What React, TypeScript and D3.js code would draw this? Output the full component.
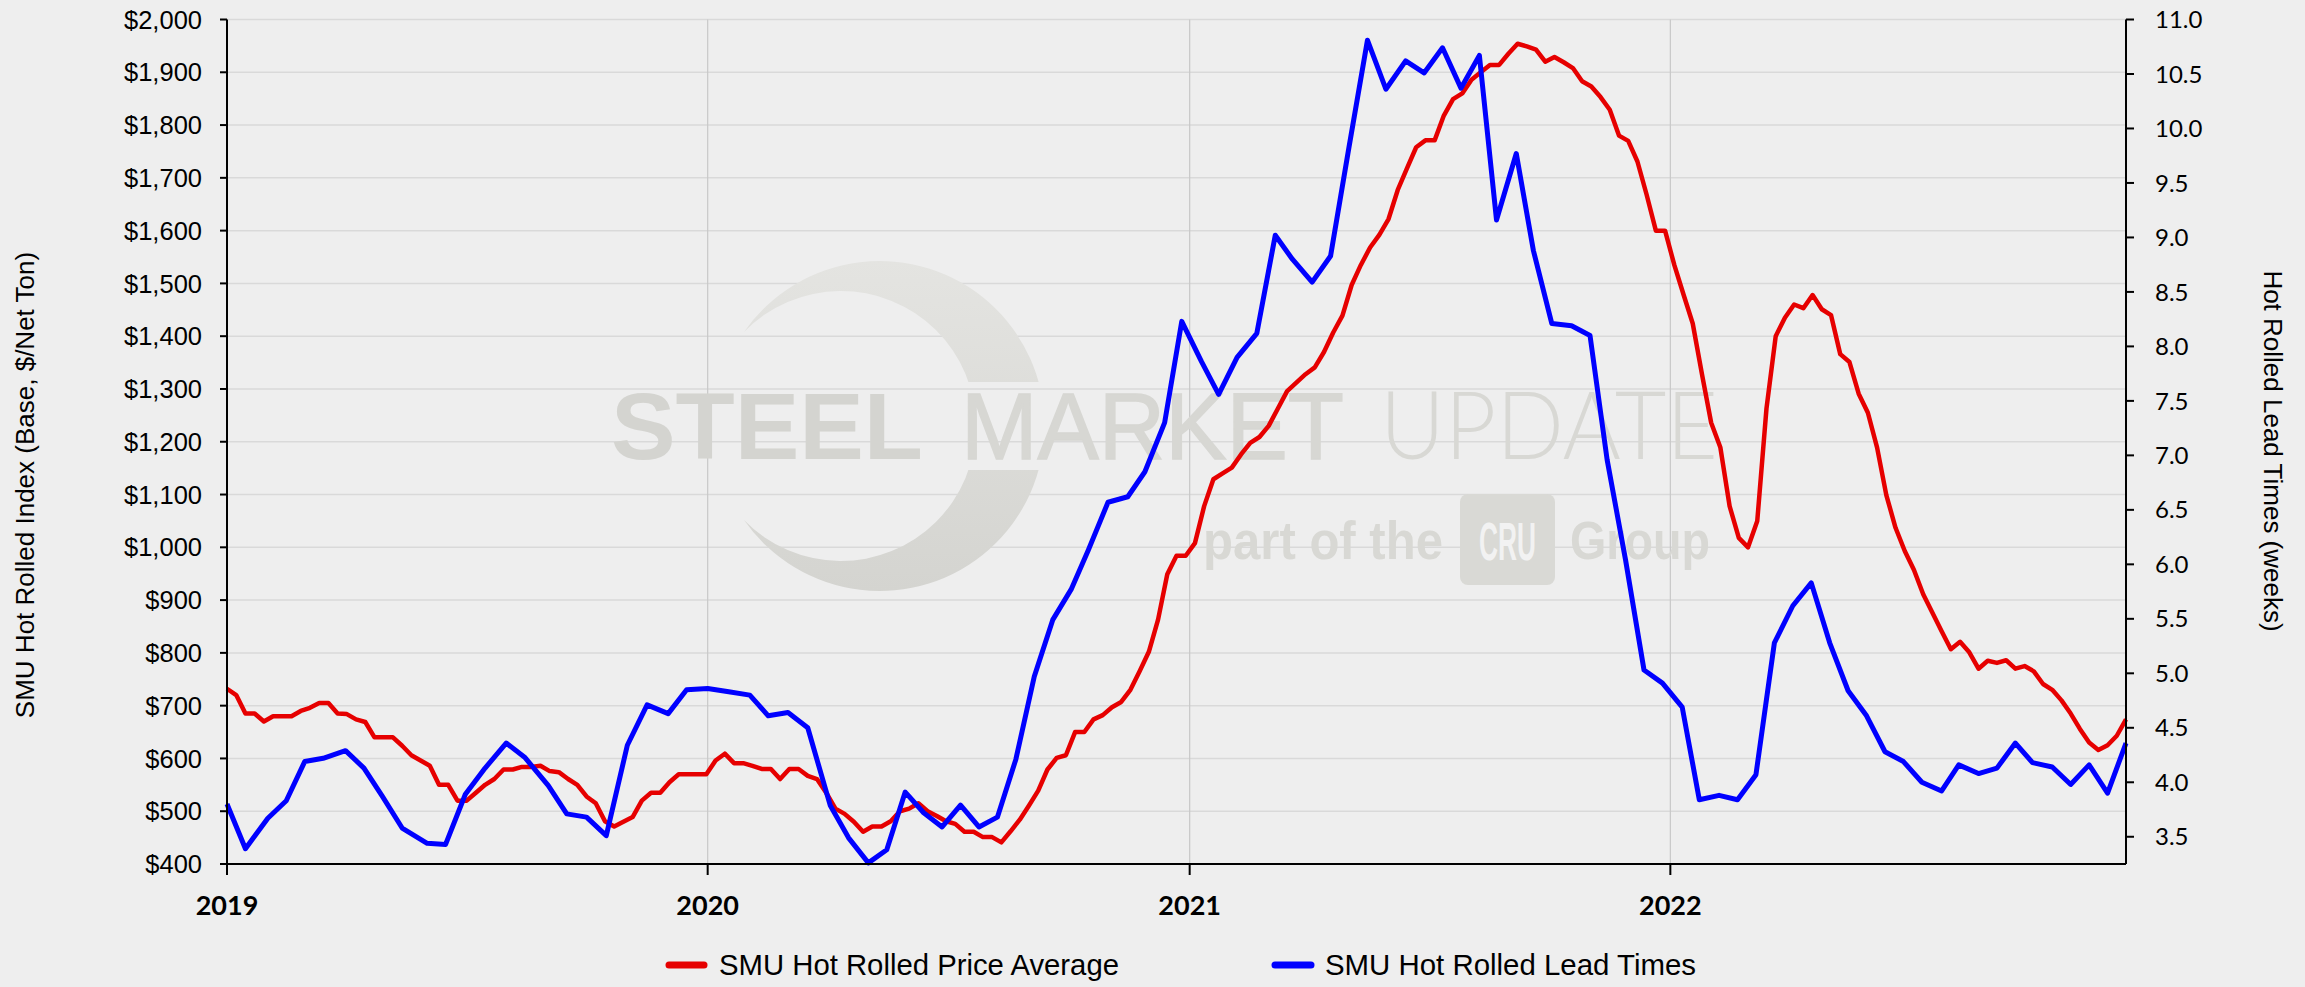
import React from "react";
import * as d3 from "d3";

const W = 2305;
const H = 987;

// Weekly SMU hot rolled price average, starting 2019-01-01
const priceStart = "2019-01-01";
const priceValues = [
  732, 720, 685, 685, 670, 680, 680, 680, 690, 696, 705, 705, 685, 684, 674, 669, 640, 640, 640, 624,
  606, 596, 586, 550, 550, 520, 520, 535, 550, 561, 579, 579, 584, 584, 586, 576, 574, 561, 550, 528,
  515, 481, 471, 480, 489, 520, 535, 535, 555, 570, 570, 570, 570, 596, 609, 591, 591, 586, 580, 580,
  561, 580, 580, 567, 561, 535, 505, 495, 480, 461, 471, 471, 481, 500, 505, 515, 500, 491, 481, 476,
  461, 461, 451, 451, 441, 462, 484, 511, 539, 579, 601, 606, 650, 650, 674, 682, 697, 707, 730, 765,
  802, 863, 949, 984, 984, 1008, 1078, 1129, 1140, 1151, 1176, 1198, 1209, 1230, 1263, 1296, 1312, 1328, 1341, 1370,
  1407, 1439, 1497, 1535, 1568, 1592, 1622, 1677, 1718, 1758, 1771, 1771, 1818, 1849, 1860, 1886, 1900, 1914, 1914, 1935,
  1954, 1949, 1943, 1920, 1929, 1919, 1908, 1883, 1873, 1853, 1829, 1780, 1770, 1731, 1668, 1600, 1600, 1535, 1479, 1424,
  1328, 1236, 1189, 1078, 1018, 1000, 1050, 1263, 1400, 1435, 1460, 1453, 1478, 1451, 1440, 1366, 1351, 1291, 1255, 1189,
  1099, 1037, 993, 957, 911, 876, 841, 807, 821, 801, 770, 785, 781, 786, 770, 775, 765, 741, 730, 710,
  685, 656, 630, 616, 625, 643, 674,
];

// Biweekly SMU hot rolled lead times (weeks)
const leadDates = [
  "2019-01-01", "2019-01-15", "2019-02-01", "2019-02-15", "2019-03-01", "2019-03-15", "2019-04-01", "2019-04-15",
  "2019-04-29", "2019-05-14", "2019-06-02", "2019-06-16", "2019-07-01", "2019-07-16", "2019-08-01", "2019-08-15",
  "2019-09-02", "2019-09-16", "2019-10-01", "2019-10-16", "2019-11-01", "2019-11-16", "2019-12-02", "2019-12-16",
  "2020-01-01", "2020-01-17", "2020-02-02", "2020-02-16", "2020-03-02", "2020-03-17", "2020-04-03", "2020-04-17",
  "2020-05-02", "2020-05-16", "2020-05-30", "2020-06-13", "2020-06-27", "2020-07-11", "2020-07-25", "2020-08-08",
  "2020-08-22", "2020-09-05", "2020-09-19", "2020-10-03", "2020-10-16", "2020-10-31", "2020-11-15", "2020-11-28",
  "2020-12-13", "2020-12-26", "2021-01-10", "2021-01-23", "2021-02-06", "2021-02-21", "2021-03-07", "2021-03-20",
  "2021-04-04", "2021-04-18", "2021-05-02", "2021-05-16", "2021-05-30", "2021-06-14", "2021-06-28", "2021-07-12",
  "2021-07-26", "2021-08-09", "2021-08-22", "2021-09-06", "2021-09-19", "2021-10-03", "2021-10-18", "2021-11-01",
  "2021-11-14", "2021-11-28", "2021-12-12", "2021-12-26", "2022-01-10", "2022-01-23", "2022-02-07", "2022-02-21",
  "2022-03-07", "2022-03-21", "2022-04-04", "2022-04-18", "2022-05-02", "2022-05-16", "2022-05-30", "2022-06-13",
  "2022-06-27", "2022-07-11", "2022-07-26", "2022-08-08", "2022-08-23", "2022-09-06", "2022-09-20", "2022-10-03",
  "2022-10-18", "2022-11-01", "2022-11-15", "2022-11-29", "2022-12-13",
];
const leadValues = [
  3.8, 3.39, 3.67, 3.83, 4.19, 4.22, 4.29, 4.13,
  3.87, 3.58, 3.44, 3.43, 3.89, 4.13, 4.36, 4.23,
  3.97, 3.71, 3.68, 3.51, 4.34, 4.71, 4.63, 4.85,
  4.86, 4.83, 4.8, 4.61, 4.64, 4.5, 3.79, 3.49,
  3.26, 3.38, 3.91, 3.72, 3.59, 3.79, 3.59, 3.68,
  4.21, 4.97, 5.49, 5.77, 6.13, 6.57, 6.62, 6.85,
  7.3, 8.23, 7.86, 7.56, 7.9, 8.12, 9.02, 8.8,
  8.59, 8.83, 9.83, 10.81, 10.36, 10.62, 10.51, 10.74,
  10.37, 10.67, 9.16, 9.77, 8.88, 8.21, 8.19, 8.1,
  6.96, 6.04, 5.03, 4.91, 4.69, 3.84, 3.88, 3.84,
  4.07, 5.28, 5.62, 5.83, 5.28, 4.84, 4.61, 4.28,
  4.19, 4.0, 3.92, 4.16, 4.08, 4.13, 4.36, 4.18,
  4.14, 3.98, 4.16, 3.9, 4.36,
];

const yearTicks = [2019, 2020, 2021, 2022];
const priceTicks = [400, 500, 600, 700, 800, 900, 1000, 1100, 1200, 1300, 1400, 1500, 1600, 1700, 1800, 1900, 2000];
const leadTicks = [3.5, 4.0, 4.5, 5.0, 5.5, 6.0, 6.5, 7.0, 7.5, 8.0, 8.5, 9.0, 9.5, 10.0, 10.5, 11.0];
const seriesNames = ["SMU Hot Rolled Price Average", "SMU Hot Rolled Lead Times"];
const leftTitle = "SMU Hot Rolled Index (Base, $/Net Ton)";
const rightTitle = "Hot Rolled Lead Times (weeks)";

const RED = "#e60000";
const BLUE = "#0000ff";
const BG = "#eeeeee";
const ARIAL = "'Liberation Sans', Arial, sans-serif";
const CAL = "Lato, 'Open Sans', sans-serif";

export default function App() {
  const L = 227, R = 2126, T = 19.5, B = 864;
  const x = d3.scaleUtc().domain([new Date("2019-01-01"), new Date("2022-12-13")]).range([L, R]);
  const yL = d3.scaleLinear().domain([400, 2000]).range([B, T]);
  const yR = d3.scaleLinear().domain([3.25, 11]).range([B, T]);

  const start = new Date(priceStart);
  const priceData = priceValues.map((v, i) => ({ d: d3.utcDay.offset(start, 7 * i), v }));
  const leadData = leadDates.map((s, i) => ({ d: new Date(s), v: leadValues[i] }));

  const priceLine = d3.line<{ d: Date; v: number }>().x((p) => x(p.d)).y((p) => yL(p.v));
  const leadLine = d3.line<{ d: Date; v: number }>().x((p) => x(p.d)).y((p) => yR(p.v));
  const fmt = d3.format("$,");

  // crescent swoosh of watermark
  const crescent = "M744,332 A165,165 0 1 1 744,520 A135,135 0 1 0 744,332 Z";

  return (
    <svg width={W} height={H} style={{ position: "absolute", left: 0, top: 0, display: "block" }}>
      <defs>
        <clipPath id="cresClip">
          <rect x={0} y={0} width={W} height={382} />
          <rect x={0} y={470} width={W} height={H} />
        </clipPath>
        <linearGradient id="cresGrad" x1="0" y1="0" x2="0" y2="1">
          <stop offset="0" stopColor="#e4e4e1" />
          <stop offset="1" stopColor="#d4d4d0" />
        </linearGradient>
      </defs>
      <rect x={0} y={0} width={W} height={H} fill={BG} />

      {/* gridlines */}
      {priceTicks.filter((t) => t > 400).map((t) => (
        <line key={"g" + t} x1={L} x2={R} y1={yL(t)} y2={yL(t)} stroke="#d9d9d9" strokeWidth={1.5} />
      ))}
      {yearTicks.slice(1).map((yr) => {
        const xx = x(new Date(Date.UTC(yr, 0, 1)));
        return <line key={"v" + yr} x1={xx} x2={xx} y1={T} y2={B} stroke="#c8c8c8" strokeWidth={1.2} />;
      })}

      {/* watermark */}
      <g>
        <path d={crescent} fill="url(#cresGrad)" clipPath="url(#cresClip)" />
        <text x={611} y={459} fontFamily={ARIAL} fontWeight="bold" fontSize={94} fill="#d4d4d0"
          textLength={312} lengthAdjust="spacingAndGlyphs">STEEL</text>
        <text x={961} y={459} fontFamily={ARIAL} fontSize={94} fill="#d7d7d3" stroke="#d7d7d3" strokeWidth={1.5}
          textLength={383} lengthAdjust="spacingAndGlyphs">MARKET</text>
        <text x={1380} y={459} fontFamily={CAL} fontWeight={300} fontSize={94} fill="#d8d8d4"
          textLength={338} lengthAdjust="spacingAndGlyphs">UPDATE</text>
        <text x={1203} y={559} fontFamily={ARIAL} fontWeight="bold" fontSize={54} fill="#d8d8d4"
          textLength={240} lengthAdjust="spacingAndGlyphs">part of the</text>
        <rect x={1460} y={494} width={95} height={91} rx={8} fill="#d9d9d5" />
        <text x={1507.5} y={560} textAnchor="middle" fontFamily={ARIAL} fontWeight="bold" fontSize={54}
          fill="#f2f2f2" textLength={57} lengthAdjust="spacingAndGlyphs">CRU</text>
        <text x={1570} y={559} fontFamily={ARIAL} fontWeight="bold" fontSize={54} fill="#d8d8d4"
          textLength={140} lengthAdjust="spacingAndGlyphs">Group</text>
      </g>

      {/* series */}
      <path d={priceLine(priceData) || ""} fill="none" stroke={RED} strokeWidth={4.5} strokeLinejoin="round" />
      <path d={leadLine(leadData) || ""} fill="none" stroke={BLUE} strokeWidth={5} strokeLinejoin="round" />

      {/* axes lines */}
      <line x1={L} x2={L} y1={T} y2={B + 11} stroke="#000" strokeWidth={2} />
      <line x1={L - 7} x2={R} y1={B} y2={B} stroke="#000" strokeWidth={2} />
      <line x1={R} x2={R} y1={T} y2={B} stroke="#000" strokeWidth={2} />

      {/* left ticks */}
      {priceTicks.map((t) => (
        <g key={"l" + t}>
          <line x1={L - 7} x2={L} y1={yL(t)} y2={yL(t)} stroke="#000" strokeWidth={2} />
          <text x={202} y={yL(t)} dy="0.36em" textAnchor="end" fontFamily={ARIAL} fontSize={25.5} fill="#000">
            {fmt(t)}
          </text>
        </g>
      ))}

      {/* right ticks */}
      {leadTicks.map((t) => (
        <g key={"r" + t}>
          <line x1={R} x2={R + 8} y1={yR(t)} y2={yR(t)} stroke="#000" strokeWidth={2} />
          <text x={2155} y={yR(t)} dy="0.36em" textAnchor="start" fontFamily={CAL} fontSize={24} fill="#000">
            {t.toFixed(1)}
          </text>
        </g>
      ))}

      {/* bottom ticks */}
      {yearTicks.map((yr) => {
        const xx = x(new Date(Date.UTC(yr, 0, 1)));
        return (
          <g key={"b" + yr}>
            <line x1={xx} x2={xx} y1={B} y2={B + 11} stroke="#000" strokeWidth={2} />
            <text x={xx} y={915} textAnchor="middle" fontFamily={CAL} fontWeight="bold" fontSize={27} fill="#000">
              {yr}
            </text>
          </g>
        );
      })}

      {/* axis titles */}
      <text transform="translate(34,485) rotate(-90)" textAnchor="middle" fontFamily={ARIAL} fontSize={26} fill="#000">
        {leftTitle}
      </text>
      <text transform="translate(2264,451) rotate(90)" textAnchor="middle" fontFamily={ARIAL} fontSize={26} fill="#000">
        {rightTitle}
      </text>

      {/* legend */}
      <line x1={669} x2={704} y1={965} y2={965} stroke={RED} strokeWidth={7} strokeLinecap="round" />
      <text x={719} y={975} fontFamily={ARIAL} fontSize={30} fill="#000" textLength={400} lengthAdjust="spacingAndGlyphs">
        {seriesNames[0]}
      </text>
      <line x1={1275} x2={1311} y1={965} y2={965} stroke={BLUE} strokeWidth={7} strokeLinecap="round" />
      <text x={1325} y={975} fontFamily={ARIAL} fontSize={30} fill="#000" textLength={371} lengthAdjust="spacingAndGlyphs">
        {seriesNames[1]}
      </text>
    </svg>
  );
}
